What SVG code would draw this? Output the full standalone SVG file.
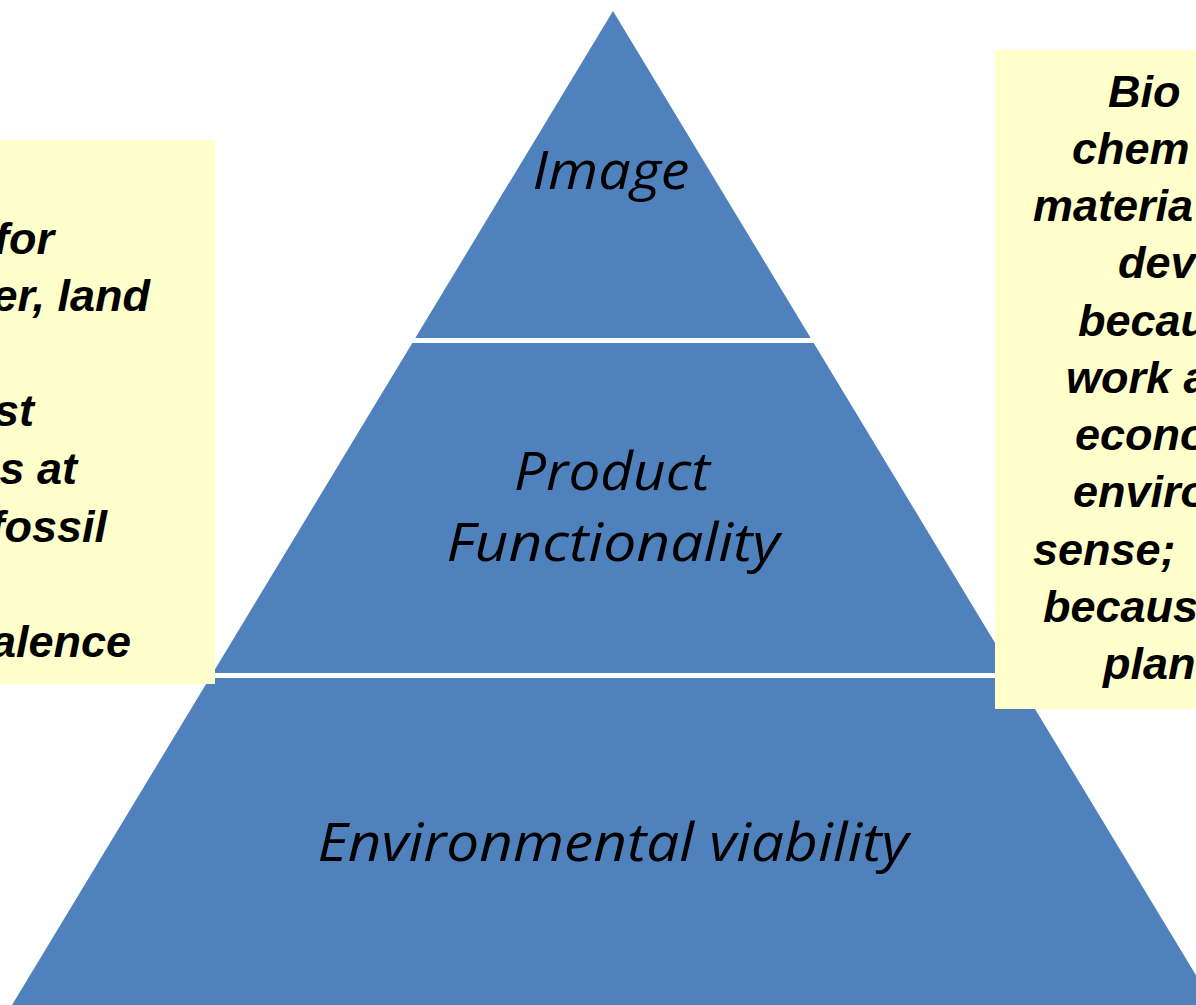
<svg xmlns="http://www.w3.org/2000/svg" width="1196" height="1005" viewBox="0 0 1196 1005">
<style>
.layer{fill:#4F81BD;}
.ptxt{font-family:"Open Sans","Noto Sans",sans-serif;font-style:italic;font-size:53px;fill:#000;text-anchor:middle;}
.note{fill:#FFFFCC;}
.ntxt{font-family:"Liberation Sans",Arial,sans-serif;font-style:italic;font-weight:bold;font-size:45px;fill:#000;}
</style>
<rect width="1196" height="1005" fill="#FFFFFF"/>
<g id="layer-image">
<polygon class="layer" points="613,11 810.7,338 415.3,338"/>
<text class="ptxt" x="611" y="189" textLength="157" lengthAdjust="spacingAndGlyphs">Image</text>
</g>
<g id="layer-functionality">
<polygon class="layer" points="412.3,343 813.7,343 1013.2,673 212.8,673"/>
<text class="ptxt" x="612" y="490" textLength="196" lengthAdjust="spacingAndGlyphs">Product</text>
<text class="ptxt" x="613" y="561" textLength="333" lengthAdjust="spacingAndGlyphs">Functionality</text>
</g>
<g id="layer-environment">
<polygon class="layer" points="209.7,678 1016.3,678 1214,1005 12,1005"/>
<text class="ptxt" x="613" y="861" textLength="591" lengthAdjust="spacingAndGlyphs">Environmental viability</text>
</g>
<g id="note-left">
<rect class="note" x="-2" y="140" width="217" height="544"/>
<g class="ntxt" text-anchor="end">
<text x="54" y="254">for</text>
<text x="150" y="311">er, land</text>
<text x="34" y="426">st</text>
<text x="77" y="484">s at</text>
<text x="107" y="542">fossil</text>
<text x="131" y="657">alence</text>
</g>
</g>
<g id="note-right">
<rect class="note" x="995" y="50" width="203" height="659"/>
<g class="ntxt">
<text x="1108" y="107">Bio</text>
<text x="1072" y="164">chem</text>
<text x="1033" y="221">materia</text>
<text x="1118" y="278">dev</text>
<text x="1078" y="336">becau</text>
<text x="1066" y="393">work a</text>
<text x="1075" y="450">econo</text>
<text x="1073" y="507">enviro</text>
<text x="1033" y="565">sense;</text>
<text x="1043" y="622">becaus</text>
<text x="1103" y="679">plan</text>
</g>
</g>
<g id="connectors"/>
</svg>
